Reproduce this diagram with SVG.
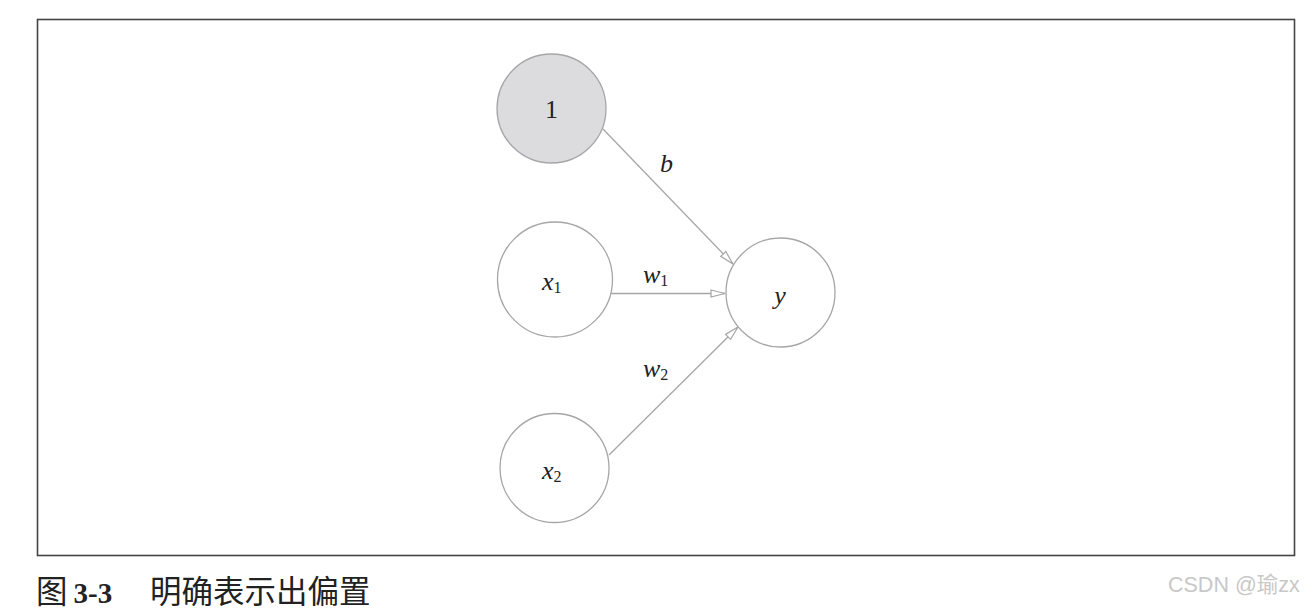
<svg xmlns="http://www.w3.org/2000/svg" width="1316" height="611" viewBox="0 0 1316 611">
<style>
.node{fill:#ffffff;stroke:#a6a6a8;stroke-width:1.3}
.bias{fill:#dcdcde}
.edge{stroke:#a6a6a8;stroke-width:1.3;fill:none}
.m{font-family:"Liberation Serif","DejaVu Serif",serif;font-size:26px;fill:#222;font-style:italic}
.n{font-family:"Liberation Serif","DejaVu Serif",serif;font-size:26px;fill:#222}
.sub{font-size:16px;font-style:normal}
.cap{font-family:"Noto Sans CJK SC","Noto Sans",sans-serif;font-size:31.5px;fill:#222}
.capnum{font-family:"Liberation Serif",serif;font-weight:bold;font-size:29px;fill:#222}
.wm{font-family:"Liberation Sans","Noto Sans CJK SC",sans-serif;font-size:21.5px;fill:#c8c8c8}
</style>
<defs>
<marker id="arr" viewBox="0 0 16 10" refX="15" refY="5" markerWidth="16" markerHeight="10" markerUnits="userSpaceOnUse" orient="auto">
<path d="M1,1.5 L15,5 L1,8.5 Z" fill="#ffffff" stroke="#a6a6a8" stroke-width="1.2"/>
</marker>
</defs>
<rect x="37.5" y="19.5" width="1257" height="536" fill="#ffffff" stroke="#444" stroke-width="1.6"/>
<g id="connectors">
<line class="edge" x1="603" y1="129" x2="733" y2="264" marker-end="url(#arr)"/>
<line class="edge" x1="607" y1="293.5" x2="725" y2="293.5" marker-end="url(#arr)"/>
<line class="edge" x1="609" y1="455" x2="738" y2="327" marker-end="url(#arr)"/>
<text class="m" x="660" y="172">b</text>
<text class="m" x="643" y="283">w<tspan class="sub" dy="3">1</tspan></text>
<text class="m" x="643" y="377">w<tspan class="sub" dy="3">2</tspan></text>
</g>
<g id="node-1">
<circle class="node bias" cx="551.5" cy="108.5" r="54.5"/>
<text class="n" x="551.5" y="118" text-anchor="middle">1</text>
</g>
<g id="node-x1">
<circle class="node" cx="555" cy="279.5" r="57.5"/>
<text class="m" x="542" y="290">x<tspan class="sub" dy="3">1</tspan></text>
</g>
<g id="node-x2">
<circle class="node" cx="554.5" cy="468" r="54.5"/>
<text class="m" x="542" y="479">x<tspan class="sub" dy="3">2</tspan></text>
</g>
<g id="node-y">
<circle class="node" cx="780.5" cy="292.5" r="54.5"/>
<text class="m" x="780" y="304" text-anchor="middle">y</text>
</g>
<g id="caption">
<text x="36" y="603"><tspan class="cap">图</tspan><tspan class="capnum" dx="6">3-3</tspan></text>
<text class="cap" x="150" y="603">明确表示出偏置</text>
</g>
<text class="wm" x="1168" y="592">CSDN @瑜zx</text>
</svg>
